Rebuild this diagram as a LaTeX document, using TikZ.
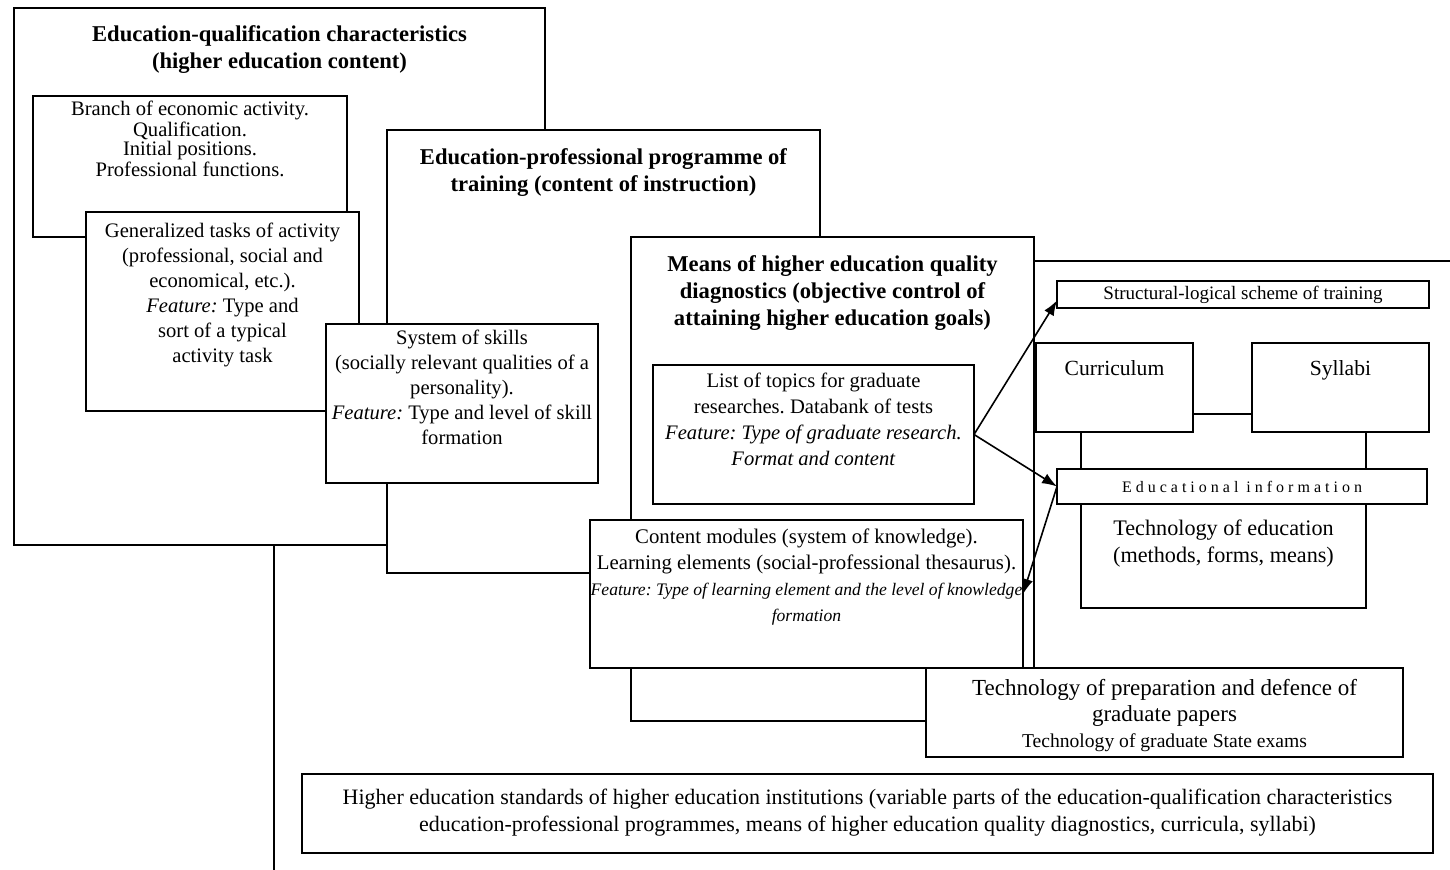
\documentclass[tikz,border=0pt]{standalone}
\usepackage{fontspec}
\setmainfont{Liberation Serif}
\usetikzlibrary{positioning,arrows.meta}

\tikzset{
  panel/.style={draw, fill=white, line width=0.8pt, inner sep=0pt, outer sep=0pt, anchor=north west},
  body/.style={align=center, inner sep=0pt, font=\fontsize{10.3}{12.5}\selectfont},
  side/.style={align=center, inner sep=0pt, font=\fontsize{10.8}{13.5}\selectfont},
  head/.style={align=center, inner sep=0pt, font=\bfseries\fontsize{11.3}{13.5}\selectfont},
  link/.style={line width=0.8pt},
  pointer/.style={line width=0.8pt, -{Latex[length=7.5pt,width=5.5pt]}},
}

\begin{document}
\frenchspacing
\begin{tikzpicture}[x=0.5pt, y=-0.5pt]
  \useasboundingbox (0,0) rectangle (1450,870);

  % Education-qualification characteristics
  \node[panel, minimum width=265.5pt, minimum height=268.5pt] (eqc) at (14,8) {};
  \node[head, below=8.75pt of eqc.north] (eqc-t)
    {Education-qualification characteristics\\(higher education content)};
  \coordinate (foot) at (274,870);
  \draw[link] (eqc.south -| foot) -- (foot);

  \node[panel, minimum width=157pt, minimum height=70.5pt] (branch) at (33,96) {};
  \node[body, font=\fontsize{10.3}{9.2}\selectfont, below=2.5pt of branch.north] (branch-t)
    {Branch of economic activity.\\Qualification.\\Initial positions.\\Professional functions.};

  \node[panel, minimum width=136.5pt, minimum height=99.5pt] (tasks) at (86,212) {};
  \node[body, below=5.5pt of tasks.north] (tasks-t)
    {Generalized tasks of activity\\(professional, social and\\economical, etc.).\\
     \textit{Feature:} Type and\\sort of a typical\\activity task};

  % Education-professional programme
  \node[panel, minimum width=216.5pt, minimum height=221.5pt] (epp) at (387,130) {};
  \node[head, below=9.25pt of epp.north] (epp-t)
    {Education-professional programme of\\training (content of instruction)};

  \node[panel, minimum width=136pt, minimum height=79.5pt] (skills) at (326,324) {};
  \node[body, below=3pt of skills.north] (skills-t)
    {System of skills\\(socially relevant qualities of a\\personality).\\
     \textit{Feature:} Type and level of skill\\formation};

  % Means of diagnostics
  \node[panel, minimum width=201.5pt, minimum height=242pt] (means) at (631,237) {};
  \node[head, below=9.25pt of means.north] (means-t)
    {Means of higher education quality\\diagnostics (objective control of\\attaining higher education goals)};

  \node[panel, minimum width=160.5pt, minimum height=69.5pt] (topics) at (653,365) {};
  \node[body, font=\fontsize{10.3}{13}\selectfont, below=4pt of topics.north] (topics-t)
    {List of topics for graduate\\researches. Databank of tests\\
     \textit{Feature: Type of graduate research.}\\\textit{Format and content}};

  \node[panel, minimum width=216.5pt, minimum height=74pt] (content) at (590,520) {};
  \node[body, font=\fontsize{10.4}{13}\selectfont, below=4pt of content.north] (content-t)
    {Content modules (system of knowledge).\\Learning elements (social-professional thesaurus).\\
     {\fontsize{8.8}{13}\selectfont\itshape Feature: Type of learning element and the level of knowledge}\\
     {\fontsize{8.8}{13}\selectfont\itshape formation}};

  % right block
  \coordinate (rim) at (1450,261);
  \draw[link] (means.east |- rim) -- (rim);

  \node[panel, minimum width=186pt, minimum height=13.5pt] (struct) at (1057,281) {};
  \node[side, font=\fontsize{9.5}{11}\selectfont] (struct-t) at (struct.center)
    {Structural-logical scheme of training};

  \node[panel, minimum width=78.5pt, minimum height=44.5pt] (curr) at (1036,343) {};
  \node[side, below=8.5pt of curr.north] (curr-t) {Curriculum};
  \node[panel, minimum width=88.5pt, minimum height=44.5pt] (syll) at (1252,343) {};
  \node[side, below=8.5pt of syll.north] (syll-t) {Syllabi};
  \draw[link] ([yshift=-13.25pt]curr.east) -- ([yshift=-13.25pt]syll.west);

  \node[panel, minimum width=185pt, minimum height=17.5pt] (edu) at (1057,469) {};
  \node[side, font=\fontsize{8}{10}\selectfont\addfontfeature{LetterSpace=25}] (edu-t) at (edu.center)
    {Educational information};

  \node[panel, minimum width=142.5pt, minimum height=52pt] (techedu) at (1081,504) {};
  \node[side, font=\fontsize{11.1}{13.5}\selectfont, below=7.5pt of techedu.north] (techedu-t)
    {Technology of education\\(methods, forms, means)};
  \draw[link] (techedu.north west |- curr.south) -- (techedu.north west |- edu.north);
  \draw[link] (techedu.north east |- syll.south) -- (techedu.north east |- edu.north);

  \node[panel, minimum width=238.5pt, minimum height=44.5pt] (techprep) at (926,668) {};
  \node[side, font=\fontsize{11.5}{13}\selectfont, below=5.5pt of techprep.north] (techprep-t)
    {Technology of preparation and defence of\\graduate papers\\
     {\fontsize{9.8}{13}\selectfont Technology of graduate State exams}};

  % standards
  \node[panel, minimum width=565.5pt, minimum height=39.5pt] (std) at (302,774) {};
  \node[body, font=\fontsize{11}{13.5}\selectfont, below=7.5pt of std.north] (std-t)
    {Higher education standards of higher education institutions (variable parts of the education-qualification characteristics\\
     education-professional programmes, means of higher education quality diagnostics, curricula, syllabi)};

  \draw[pointer] (topics.east) -- ([yshift=-3pt]struct.west);
  \draw[pointer] (topics.east) -- (edu.west);
  \draw[pointer] (edu.west) -- (content.east);
\end{tikzpicture}
\end{document}
